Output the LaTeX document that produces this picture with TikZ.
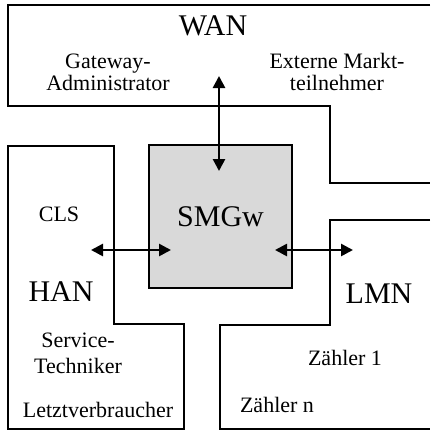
\documentclass[tikz,border=0pt]{standalone}
\usepackage{fontspec}
\setmainfont{Liberation Serif}
\usetikzlibrary{positioning, arrows.meta}
\tikzset{>={Triangle[length=6pt,width=6pt]}}

\begin{document}
\begin{tikzpicture}[x=0.5pt, y=-0.5pt, every node/.style={font=\fontsize{11}{11}\selectfont, align=center, inner sep=0pt}, biglabel/.style={font=\fontsize{15}{18}\selectfont}, net/.style={line width=0.8pt}, link/.style={<->, line width=1.3pt}]
\useasboundingbox (0,0) rectangle (430,434);
% network areas
\draw[net] (430,5) -- (8,5) -- (8,106) -- (330,106) -- (330,183) -- (430,183);
\draw[net] (8,146) -- (114,146) -- (114,324) -- (184,324) -- (184,429) -- (8,429) -- cycle;
\draw[net] (430,220) -- (330,220) -- (330,325) -- (220,325) -- (220,429) -- (430,429);
\node[draw, net, fill=black!15, minimum width=71.5pt, minimum height=71.5pt, biglabel] (smgw) at (220.5,216.5) {SMGw};
% labels
\node[biglabel] (wan) at (213,26) {WAN};
\node (admin) at (108,72) {Gateway-\\Administrator};
\node (emt) at (337,72) {Externe Markt-\\teilnehmer};
\node (cls) at (59,214) {CLS};
\node[biglabel] (han) at (61,292) {HAN};
\node[biglabel] (lmn) at (379,294) {LMN};
\node[font=\fontsize{11}{13}\selectfont] (tech) at (78,353) {Service-\\Techniker};
\node (lv) at (98,410) {Letztverbraucher};
\node (z1) at (345,358) {Zähler 1};
\node (zn) at (277,405) {Zähler n};
% links
\coordinate (wanend) at (219,76);
\coordinate (wanin) at (219,171);
\coordinate (hanend) at (91,250);
\coordinate (hanin) at (171,250);
\coordinate (lmnin) at (275,250);
\coordinate (lmnend) at (353,250);
\draw[link] (wanend) -- (wanin);
\draw[link] (hanend) -- (hanin);
\draw[link] (lmnin) -- (lmnend);
\end{tikzpicture}
\end{document}
